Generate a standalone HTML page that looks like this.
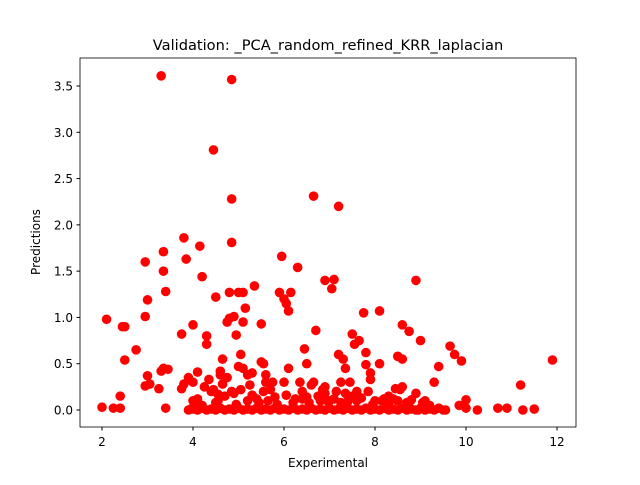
<!DOCTYPE html>
<html><head><meta charset="utf-8"><style>
body{margin:0;background:#fff;font-family:"Liberation Sans","DejaVu Sans",sans-serif}
svg text{font-family:"DejaVu Sans","Liberation Sans",sans-serif}
</style></head><body>
<svg id="chart" width="640" height="480" xmlns="http://www.w3.org/2000/svg">
<rect width="640" height="480" fill="#fff"/>
<text x="328" y="50" text-anchor="middle" font-size="14.6">Validation: _PCA_random_refined_KRR_laplacian</text>
<g id="pts"></g>
<rect x="80" y="58" width="496" height="369" fill="none" stroke="#000" stroke-width="0.8"/>
<g id="axes"></g>
<text x="328" y="467" text-anchor="middle" font-size="12">Experimental</text>
<text transform="translate(40,242) rotate(-90)" text-anchor="middle" font-size="12">Predictions</text>
</svg>
<script>
const xs = [2.0,2.1,2.25,2.4,2.4,2.45,2.5,2.5,2.75,2.95,2.95,3.0,2.95,3.05,3.0,3.3,3.25,3.35,3.3,3.35,3.35,3.4,3.4,3.45,3.75,3.75,3.8,3.8,3.85,3.9,3.95,4.0,4.05,4.1,4.15,4.2,4.3,4.3,4.45,4.45,4.5,4.55,4.6,4.65,4.75,4.8,4.8,4.85,4.85,4.85,4.9,4.95,5.0,5.05,5.1,5.1,5.15,5.0,5.1,5.2,5.35,5.5,5.55,5.5,5.6,5.55,5.65,5.75,5.9,5.95,6.0,6.05,6.1,6.15,6.1,6.3,6.45,6.5,6.65,6.7,6.65,6.9,7.05,7.1,7.2,7.3,7.2,7.25,7.35,7.5,7.55,7.65,7.75,7.8,7.8,7.9,8.1,8.1,8.5,8.6,8.6,8.75,8.9,9.0,9.3,9.4,9.65,9.75,9.9,10.0,10.25,10.7,10.9,11.2,11.25,11.5,11.9,6.0,6.4,6.6,7.0,7.6,8.3,8.45,8.6,9.1,9.85,9.5,8.95,4.0,4.2,
3.9,4.0,4.1,4.2,4.3,4.4,4.5,4.6,4.7,4.8,4.9,5.0,5.1,5.2,5.3,5.4,5.5,5.6,5.7,5.8,5.9,6.0,6.1,6.2,6.3,6.4,6.5,6.6,6.7,6.8,6.9,7.0,7.1,7.2,7.3,7.4,7.5,7.6,7.7,7.8,7.9,8.0,8.1,8.2,8.3,8.4,8.5,8.6,8.7,8.8,8.9,9.0,9.1,9.2,9.3,9.4,9.55,10.0,
4.1,4.5,4.7,5.2,5.4,6.2,6.5,6.8,7.1,7.4,7.7,8.0,8.3,8.8,4.4,4.9,5.3,5.8,6.4,6.9,7.5,8.2,8.5,
4.0,4.25,4.35,4.55,4.65,4.75,4.95,5.05,5.25,5.45,5.6,5.85,6.05,6.25,6.35,6.55,6.75,6.85,6.95,7.15,7.25,7.45,7.6,7.85,7.95,8.15,8.35,8.55,8.7,8.9,9.05,9.2,4.6,5.3,5.7,6.9,7.35,7.9,8.4,4.85];
const ys = [0.03,0.98,0.02,0.02,0.15,0.9,0.9,0.54,0.65,1.6,1.01,1.19,0.26,0.28,0.37,0.42,0.23,0.45,3.61,1.71,1.5,1.28,0.02,0.44,0.82,0.23,0.28,1.86,1.63,0.35,0.01,0.92,0.05,0.41,1.77,1.44,0.8,0.71,2.81,0.22,1.22,0.17,0.42,0.55,0.95,1.27,0.99,3.57,2.28,1.81,1.01,0.81,1.27,0.6,0.95,1.27,1.1,0.47,0.45,0.38,1.34,0.52,0.5,0.93,0.38,0.2,0.1,0.3,1.27,1.66,1.2,1.15,1.07,1.27,0.45,1.54,0.66,0.5,2.31,0.86,0.3,1.4,1.31,1.41,2.2,0.55,0.6,0.3,0.45,0.82,0.71,0.75,1.05,0.62,0.49,0.4,1.07,0.5,0.58,0.55,0.92,0.85,1.4,0.75,0.3,0.47,0.69,0.6,0.53,0.11,0.0,0.02,0.02,0.27,0.0,0.01,0.54,0.3,0.2,0.27,0.1,0.2,0.15,0.23,0.25,0.1,0.05,0.0,0.0,0.1,0.05,
0.0,0.01,0.0,0.02,0.0,0.01,0.0,0.02,0.0,0.01,0.0,0.02,0.0,0.01,0.0,0.02,0.0,0.01,0.0,0.02,0.0,0.01,0.0,0.02,0.0,0.01,0.0,0.02,0.0,0.01,0.0,0.02,0.0,0.01,0.0,0.02,0.0,0.01,0.0,0.02,0.0,0.01,0.0,0.02,0.0,0.01,0.0,0.02,0.0,0.01,0.0,0.02,0.0,0.01,0.0,0.02,0.0,0.02,
0.12,0.08,0.15,0.1,0.12,0.08,0.14,0.1,0.12,0.09,0.13,0.1,0.08,0.11,0.2,0.18,0.16,0.14,0.12,0.18,0.15,0.12,0.1,
0.3,0.25,0.33,0.1,0.28,0.35,0.06,0.22,0.27,0.08,0.3,0.06,0.16,0.12,0.3,0.08,0.15,0.22,0.1,0.2,0.08,0.3,0.1,0.2,0.06,0.1,0.12,0.22,0.08,0.18,0.08,0.05,0.38,0.4,0.22,0.25,0.18,0.33,0.12,0.2];
const xTicks = [2,4,6,8,10,12];
const yTicks = [0.0,0.5,1.0,1.5,2.0,2.5,3.0,3.5];
const sx = v => 102 + (v - 2) * 45.5;
const sy = v => 410 - v * 92.57;
const NS = "http://www.w3.org/2000/svg";
const pts = document.getElementById('pts');
for (let i = 0; i < xs.length; i++) {
  const c = document.createElementNS(NS, 'circle');
  c.setAttribute('cx', sx(xs[i])); c.setAttribute('cy', sy(ys[i]));
  c.setAttribute('r', 4.8); c.setAttribute('fill', '#ff0000');
  
  
  pts.appendChild(c);
}
const ax = document.getElementById('axes');
xTicks.forEach(t => {
  const l = document.createElementNS(NS, 'line');
  l.setAttribute('x1', sx(t)); l.setAttribute('x2', sx(t));
  l.setAttribute('y1', 427); l.setAttribute('y2', 430.5); l.setAttribute('stroke', '#000');
  
  
  ax.appendChild(l);
  const tx = document.createElementNS(NS, 'text');
  tx.setAttribute('x', sx(t)); tx.setAttribute('y', 446);
  tx.setAttribute('text-anchor', 'middle'); tx.setAttribute('font-size', '12');
  tx.textContent = t;
  
  
  ax.appendChild(tx);
});
yTicks.forEach(t => {
  const l = document.createElementNS(NS, 'line');
  l.setAttribute('x1', 76.5); l.setAttribute('x2', 80);
  l.setAttribute('y1', sy(t)); l.setAttribute('y2', sy(t)); l.setAttribute('stroke', '#000');
  
  
  ax.appendChild(l);
  const tx = document.createElementNS(NS, 'text');
  tx.setAttribute('x', 73); tx.setAttribute('y', sy(t) + 4.5);
  tx.setAttribute('text-anchor', 'end'); tx.setAttribute('font-size', '12');
  tx.textContent = t.toFixed(1);
  
  
  ax.appendChild(tx);
});
</script>
</body></html>
